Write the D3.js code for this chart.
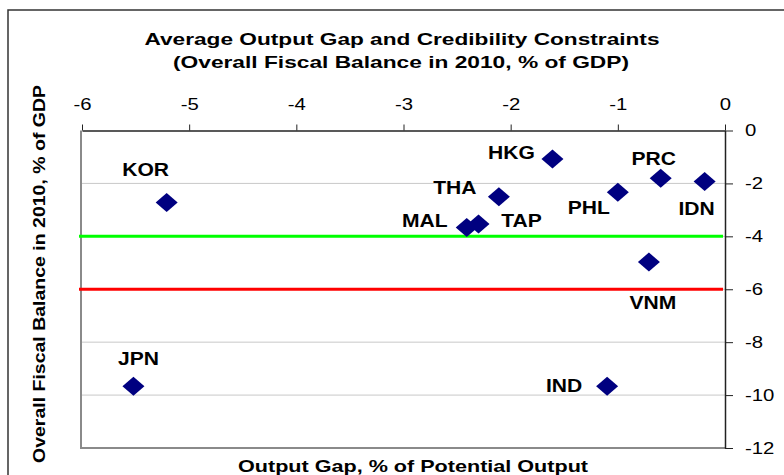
<!DOCTYPE html>
<html>
<head>
<meta charset="utf-8">
<script src="https://cdn.jsdelivr.net/npm/d3@7"></script>
<style>
  html, body { margin: 0; padding: 0; background: #fff; }
  svg { display: block; font-family: "Liberation Sans", Arial, sans-serif; }
</style>
</head>
<body>
<svg id="chart" width="784" height="475"></svg>
<script>
// ---- data ----
const economies = ["KOR", "JPN", "HKG", "THA", "MAL", "TAP", "PHL", "PRC", "VNM", "IDN", "IND"];
const outputGap = [-5.21, -5.52, -1.61, -2.11, -2.41, -2.30, -1.00, -0.60, -0.71, -0.19, -1.10];
const fiscalBalance = [-2.72, -9.67, -1.08, -2.50, -3.67, -3.53, -2.33, -1.80, -4.97, -1.93, -9.67];
const xTicks = [-6, -5, -4, -3, -2, -1, 0];
const xTickLabels = ["-6", "-5", "-4", "-3", "-2", "-1", "0"];
const yTicks = [0, -2, -4, -6, -8, -10, -12];
const yTickLabels = ["0", "-2", "-4", "-6", "-8", "-10", "-12"];
const thresholdValues = [-4, -6];
const thresholdColors = ["#00ff00", "#ff0000"];
const titleLines = ["Average Output Gap and Credibility Constraints", "(Overall Fiscal Balance in 2010, % of GDP)"];
const xTitle = "Output Gap, % of Potential Output";
const yTitle = "Overall Fiscal Balance in 2010, % of GDP";

// ---- layout (styling only) ----
const labelOffset = {
  KOR: [-21, -33], JPN: [5, -28], HKG: [-41, -7], THA: [-44, -9], MAL: [-42, -7],
  TAP: [43, -3], PHL: [-29, 15], PRC: [-7, -20], VNM: [4, 41], IDN: [-8, 27], IND: [-43, -1]
};
const STRETCH = 1.27;

const svg = d3.select("#chart");
const x = d3.scaleLinear().domain([-6, 0]).range([82, 725]);
const y = d3.scaleLinear().domain([0, -12]).range([130.5, 448]);

function stretch(sel, k) {
  sel.each(function () {
    const w = this.getComputedTextLength();
    d3.select(this).attr("textLength", w * k).attr("lengthAdjust", "spacingAndGlyphs");
  });
}

// outer frame
svg.append("rect").attr("x", 8).attr("y", 10).attr("width", 800).attr("height", 500)
  .attr("fill", "none").attr("stroke", "#333").attr("stroke-width", 1.5);

// gridlines
svg.append("g").selectAll("line").data(yTicks.filter(d => d !== 0 && d !== -12)).join("line")
  .attr("x1", x(-6)).attr("x2", x(0)).attr("y1", d => y(d)).attr("y2", d => y(d))
  .attr("stroke", "#c8c8c8").attr("stroke-width", 1);

// plot border (left and bottom, gray)
svg.append("path")
  .attr("d", `M${x(-6) - 1},${y(0)} V${y(-12)} H${x(0)}`)
  .attr("fill", "none").attr("stroke", "#8a8a8a").attr("stroke-width", 2);

// threshold lines
svg.append("g").selectAll("line").data(thresholdValues).join("line")
  .attr("x1", x(-6) - 3).attr("x2", x(0) - 2)
  .attr("y1", d => y(d)).attr("y2", d => y(d))
  .attr("stroke", (d, i) => thresholdColors[i]).attr("stroke-width", 3);

// top axis
const gTop = svg.append("g").attr("transform", `translate(0,${y(0)})`)
  .call(d3.axisTop(x).tickValues(xTicks).tickFormat((d, i) => xTickLabels[i])
    .tickSize(6).tickSizeOuter(0).tickPadding(15));
gTop.select(".domain").attr("stroke", "#222").attr("stroke-width", 1.5);
gTop.selectAll(".tick line").attr("stroke", "#222");
gTop.selectAll("text").attr("font-size", 16).attr("fill", "#000")
  .attr("font-family", "Liberation Sans, Arial, sans-serif").call(stretch, STRETCH);

// right axis
const gRight = svg.append("g").attr("transform", `translate(${x(0)},0)`)
  .call(d3.axisRight(y).tickValues(yTicks).tickFormat((d, i) => yTickLabels[i])
    .tickSize(8).tickSizeOuter(0).tickPadding(12));
gRight.select(".domain").attr("stroke", "#222").attr("stroke-width", 1.5);
gRight.selectAll(".tick line").attr("stroke", "#222");
gRight.selectAll("text").attr("font-size", 16).attr("fill", "#000")
  .attr("font-family", "Liberation Sans, Arial, sans-serif").call(stretch, STRETCH);

// points
const pts = economies.map((n, i) => ({ name: n, gx: outputGap[i], fb: fiscalBalance[i] }));
svg.append("g").selectAll("path").data(pts).join("path")
  .attr("transform", d => `translate(${x(d.gx)},${y(d.fb)})`)
  .attr("d", "M0,-9.5 L11,0 L0,9.5 L-11,0 Z")
  .attr("fill", "#000080");

// point labels
svg.append("g").selectAll("text").data(pts).join("text")
  .attr("x", d => x(d.gx) + labelOffset[d.name][0])
  .attr("y", d => y(d.fb) + labelOffset[d.name][1])
  .attr("dy", "0.36em")
  .attr("text-anchor", "middle")
  .attr("font-size", 18).attr("font-weight", "bold").attr("fill", "#000")
  .text(d => d.name)
  .call(stretch, 1.17);

// title
const titleG = svg.append("g");
titleG.append("text").attr("x", 402).attr("y", 45).attr("text-anchor", "middle")
  .attr("font-size", 17).attr("font-weight", "bold").text(titleLines[0])
  .attr("textLength", 515).attr("lengthAdjust", "spacingAndGlyphs");
titleG.append("text").attr("x", 401).attr("y", 68).attr("text-anchor", "middle")
  .attr("font-size", 17).attr("font-weight", "bold").text(titleLines[1])
  .attr("textLength", 456).attr("lengthAdjust", "spacingAndGlyphs");

// axis titles
svg.append("text").attr("x", 413).attr("y", 471.5).attr("text-anchor", "middle")
  .attr("font-size", 17).attr("font-weight", "bold").text(xTitle)
  .attr("textLength", 350).attr("lengthAdjust", "spacingAndGlyphs");
svg.append("text").attr("transform", "translate(45,274) rotate(-90)").attr("text-anchor", "middle")
  .attr("font-size", 17).attr("font-weight", "bold").text(yTitle)
  .attr("textLength", 378).attr("lengthAdjust", "spacingAndGlyphs");
</script>
</body>
</html>
